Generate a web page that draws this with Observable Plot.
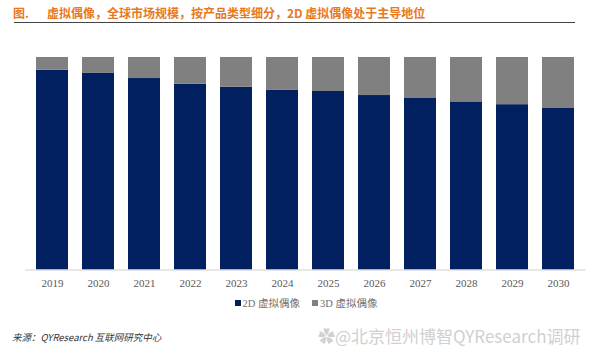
<!DOCTYPE html>
<html>
<head>
<meta charset="utf-8">
<script src="https://cdn.jsdelivr.net/npm/d3@7"></script>
<script src="https://cdn.jsdelivr.net/npm/@observablehq/plot@0.6"></script>
<style>
  html, body { margin: 0; padding: 0; background: #fff; }
  #wrap { position: relative; width: 600px; height: 351px; overflow: hidden; font-family: "Noto Sans CJK SC", sans-serif; }
  #title { position: absolute; left: 13px; top: 4px; font-size: 12px; font-weight: bold; color: #E8781E; white-space: nowrap; }
  #title .fig { display: inline-block; width: 34px; }
  #rule { position: absolute; left: 14px; top: 22px; width: 561px; height: 1px; background: #444; }
  #chart { position: absolute; left: 0; top: 50px; }
  #legend { position: absolute; left: 6px; width: 600px; top: 295px; text-align: center; font-family: "Liberation Serif", "Noto Sans CJK SC", serif; font-size: 10.5px; color: #6f6f6f; }
  #legend span.item { margin: 0 6px; }
  #legend span.sw { display: inline-block; width: 6px; height: 6px; margin-right: 2px; vertical-align: 1px; }
  #source { position: absolute; left: 12px; top: 330px; font-size: 9.5px; font-style: italic; color: #333; }
  #wm { position: absolute; left: 318px; top: 323px; font-size: 17px; color: #d0d0d0; white-space: nowrap; }
</style>
</head>
<body>
<div id="wrap">
  <div id="title"><span class="fig">图.</span>虚拟偶像，全球市场规模，按产品类型细分，2D 虚拟偶像处于主导地位</div>
  <div id="rule"></div>
  <div id="chart"></div>
  <div id="legend"></div>
  <div id="source">来源：QYResearch 互联网研究中心</div>
  <div id="wm">✿@北京恒州博智QYResearch调研</div>
</div>
<script>
const years = ["2019","2020","2021","2022","2023","2024","2025","2026","2027","2028","2029","2030"];
const share2D = [94.0, 92.5, 90.1, 87.4, 86.0, 84.7, 84.0, 82.1, 80.7, 79.1, 77.8, 76.0];
const share3D = [6.0, 7.5, 9.9, 12.6, 14.0, 15.3, 16.0, 17.9, 19.3, 20.9, 22.2, 24.0];
const seriesNames = ["2D 虚拟偶像", "3D 虚拟偶像"];
const seriesColors = ["#022060", "#808080"];

const rows = [];
years.forEach((y, i) => {
  rows.push({year: y, type: seriesNames[0], value: share2D[i]});
  rows.push({year: y, type: seriesNames[1], value: share3D[i]});
});

const chart = Plot.plot({
  width: 600,
  height: 245,
  marginTop: 7,
  marginBottom: 25.5,
  marginLeft: 25,
  marginRight: 14.5,
  x: {domain: years, paddingInner: 0.3, paddingOuter: 0.18, label: null},
  y: {domain: [0, 100], axis: null},
  color: {domain: seriesNames, range: seriesColors},
  style: {fontFamily: "'Liberation Serif', serif", fontSize: "11px", color: "#595959", background: "transparent"},
  marks: [
    Plot.barY(rows, Plot.stackY({order: seriesNames, x: "year", y: "value", fill: "type"})),
    Plot.ruleY([0], {stroke: "#d0d0d0", strokeWidth: 1}),
    Plot.axisX({tickSize: 0, tickPadding: 9, label: null, fill: "#595959"})
  ]
});
document.getElementById("chart").appendChild(chart);

const legend = document.getElementById("legend");
seriesNames.forEach((n, i) => {
  const it = document.createElement("span");
  it.className = "item";
  const sw = document.createElement("span");
  sw.className = "sw";
  sw.style.background = seriesColors[i];
  it.appendChild(sw);
  it.appendChild(document.createTextNode(n));
  legend.appendChild(it);
});
</script>
</body>
</html>
